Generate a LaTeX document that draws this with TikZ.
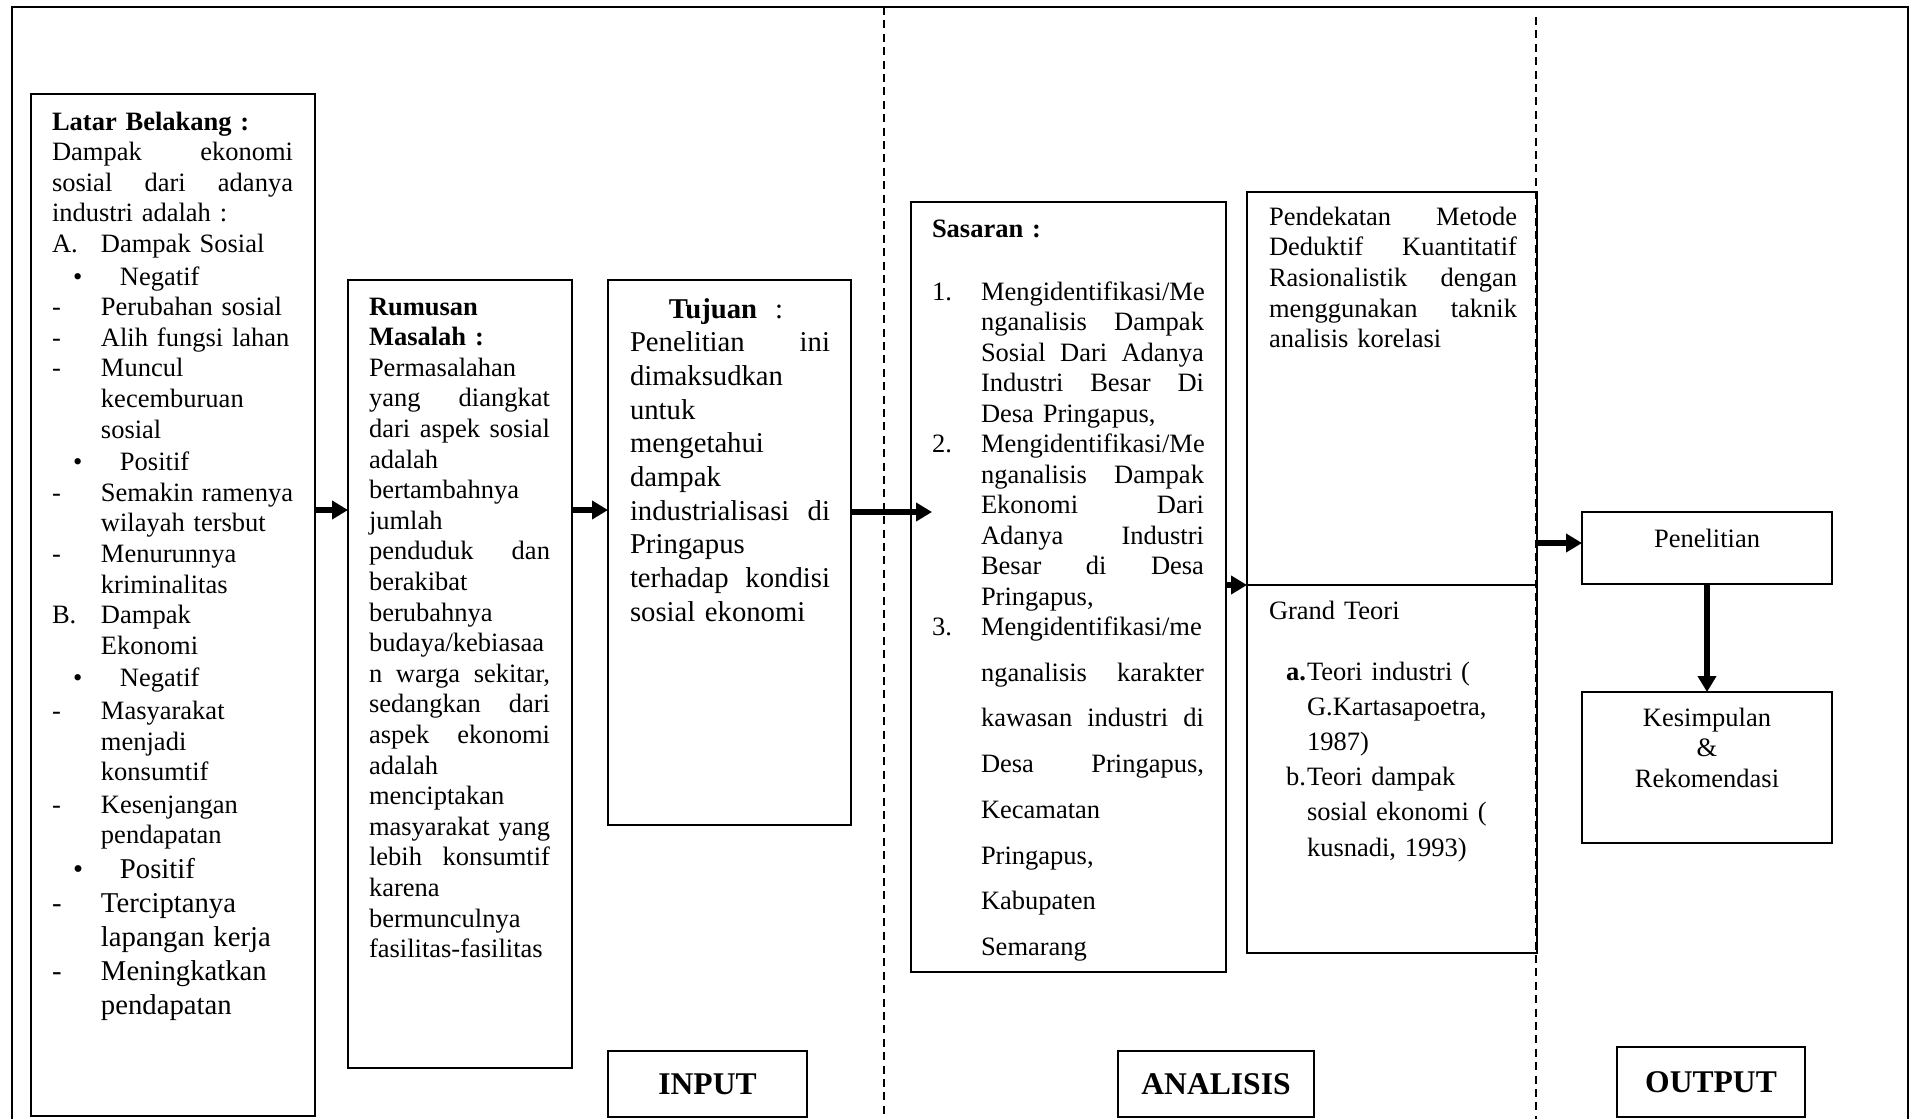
\documentclass[tikz,border=0pt]{standalone}
\usepackage{fontspec}
\setmainfont{Liberation Serif}
\usetikzlibrary{arrows.meta,calc}
\newdimen\jw
\newcommand\JL[1]{\hbox to\jw{\spaceskip=\fontdimen2\font plus 1fil\relax #1}}
\newcommand\NL[1]{\hbox{#1}}
\newcommand\LB[1]{\makebox[24.5pt][l]{#1}}
\newcommand\IND{\hskip24.5pt\relax}
\newcommand\BUL{\hskip10.5pt\makebox[23.5pt][l]{\textbullet}}
\newcommand\DSH{\makebox[24.5pt][l]{-}}
\hbadness=10000
\tikzset{
  box/.style={draw, rectangle, line width=1pt, inner sep=0pt, outer sep=0pt, anchor=north west},
  txt/.style={inner sep=0pt, outer sep=0pt, anchor=base west, font=\fontsize{13.25}{15.3}\selectfont},
  lbl/.style={box, font=\fontsize{15.8}{18}\selectfont\bfseries},
  arr/.style={line width=2.6pt, -{Triangle[length=8pt,width=9pt]}},
  frame/.style={line width=1pt},
  sep/.style={line width=0.6pt, dash pattern=on 4pt off 2.7pt},
}
\begin{document}
\begin{tikzpicture}[x=0.5pt,y=-0.5pt]
\useasboundingbox (0,0) rectangle (1915,1119);
% outer frame and column separators
\draw[frame] (12,1119) -- (12,7) -- (1908,7) -- (1908,1119);
\draw[sep] (884,7) -- (884,1119);
\draw[sep] (1536,17) -- (1536,1119);

% boxes
\node[box, line width=1.3pt, minimum width=142pt, minimum height=511pt] (latar) at (31,94) {};
\node[box, minimum width=112pt, minimum height=394pt] (rumusan) at (348,280) {};
\node[box, minimum width=121.5pt, minimum height=272.5pt] (tujuan) at (608,280) {};
\node[lbl, minimum width=99.5pt, minimum height=33pt] (inputb) at (608,1051) {INPUT};
\node[box, minimum width=157.5pt, minimum height=385pt] (sasaran) at (911,202) {};
\node[box, minimum width=145pt, minimum height=196.5pt] (pend) at (1247,192) {};
\node[box, minimum width=145pt, minimum height=184pt] (grand) at (1247,585) {};
\node[lbl, minimum width=98pt, minimum height=33pt] (analisis) at (1118,1051) {ANALISIS};
\node[box, minimum width=125pt, minimum height=36pt] (penel) at (1582,512) {};
\node[box, minimum width=125pt, minimum height=75.5pt] (kesim) at (1582,692) {};
\node[lbl, minimum width=94pt, minimum height=35pt] (outputb) at (1617,1047) {OUTPUT};

% texts
\node[txt, text width=120.5pt] (latarT) at (52,130) {%
\jw=120.5pt
\NL{\bfseries Latar Belakang :}
\JL{Dampak ekonomi}
\JL{sosial dari adanya}
\NL{industri adalah :}
\NL{\LB{A.}Dampak Sosial}
\vskip1pt\NL{\BUL Negatif}
\NL{\DSH Perubahan sosial}
\NL{\DSH Alih fungsi lahan}
\NL{\DSH Muncul}
\NL{\IND kecemburuan}
\NL{\IND sosial}
\vskip1pt\NL{\BUL Positif}
\JL{\DSH Semakin ramenya}
\NL{\IND wilayah tersbut}
\NL{\DSH Menurunnya}
\NL{\IND kriminalitas}
\NL{\LB{B.}Dampak}
\NL{\IND Ekonomi}
\vskip1pt\NL{\BUL Negatif}
\vskip1pt\NL{\DSH Masyarakat}
\NL{\IND menjadi}
\NL{\IND konsumtif}
\vskip1pt\NL{\DSH Kesenjangan}
\NL{\IND pendapatan}
\fontsize{14.35}{17}\selectfont
\vskip0.5pt\NL{\BUL Positif}
\NL{\DSH Terciptanya}
\NL{\IND lapangan kerja}
\NL{\DSH Meningkatkan}
\NL{\IND pendapatan}
};

\node[txt, text width=90pt] (rumusanT) at (369,315) {%
\jw=90.5pt
\NL{\bfseries Rumusan}
\NL{\bfseries Masalah :}
\NL{Permasalahan}
\JL{yang diangkat}
\JL{dari aspek sosial}
\NL{adalah}
\NL{bertambahnya}
\NL{jumlah}
\JL{penduduk dan}
\NL{berakibat}
\NL{berubahnya}
\NL{budaya/kebiasaa}
\JL{n warga sekitar,}
\JL{sedangkan dari}
\JL{aspek ekonomi}
\NL{adalah}
\NL{menciptakan}
\JL{masyarakat yang}
\JL{lebih konsumtif}
\NL{karena}
\NL{bermunculnya}
\NL{fasilitas-fasilitas}
};

\node[txt, text width=100pt, font=\fontsize{14.35}{16.85}\selectfont] (tujuanT) at (630,318) {%
\jw=100pt
\hbox to\jw{\hfil\textbf{Tujuan}\hskip9pt:\hfil\hskip4pt}
\JL{Penelitian ini}
\NL{dimaksudkan}
\NL{untuk}
\NL{mengetahui}
\NL{dampak}
\JL{industrialisasi di}
\NL{Pringapus}
\JL{terhadap kondisi}
\NL{sosial ekonomi}
};

\node[txt, text width=136pt, font=\fontsize{13.25}{15.25}\selectfont] (sasaranT) at (932,237) {%
\jw=136pt
\NL{\bfseries Sasaran :}
\vskip16.25pt
\NL{\LB{1.}Mengidentifikasi/Me}
\JL{\IND nganalisis Dampak}
\JL{\IND Sosial Dari Adanya}
\JL{\IND Industri Besar Di}
\NL{\IND Desa Pringapus,}
\NL{\LB{2.}Mengidentifikasi/Me}
\JL{\IND nganalisis Dampak}
\JL{\IND Ekonomi Dari}
\JL{\IND Adanya Industri}
\JL{\IND Besar di Desa}
\NL{\IND Pringapus,}
\NL{\LB{3.}Mengidentifikasi/me}
\baselineskip=22.85pt
\JL{\IND nganalisis karakter}
\JL{\IND kawasan industri di}
\JL{\IND Desa Pringapus,}
\NL{\IND Kecamatan}
\NL{\IND Pringapus,}
\NL{\IND Kabupaten}
\NL{\IND Semarang}
};

\node[txt, text width=124pt, font=\fontsize{13.25}{15.35}\selectfont] (pendT) at (1269,225) {%
\jw=124pt
\JL{Pendekatan Metode}
\JL{Deduktif Kuantitatif}
\JL{Rasionalistik dengan}
\JL{menggunakan taknik}
\NL{analisis korelasi}
};

\node[txt, text width=124pt] (grandT) at (1269,619) {%
\NL{Grand Teori}
\baselineskip=17.6pt
\vskip12.9pt
\NL{\hskip8.5pt\makebox[10.5pt][l]{\bfseries a.}Teori industri (}
\NL{\hskip19pt\relax G.Kartasapoetra,}
\NL{\hskip19pt\relax 1987)}
\NL{\hskip8.5pt\makebox[10.5pt][l]{b.}Teori dampak}
\NL{\hskip19pt\relax sosial ekonomi (}
\NL{\hskip19pt\relax kusnadi, 1993)}
};

\node[txt, anchor=base] (penelT) at (1707,547) {Penelitian};
\node[txt, anchor=base, text width=125pt, align=center] (kesimT) at (1707,726) {Kesimpulan\\\&\\Rekomendasi};

% connectors
\coordinate (rowA) at (0,510);
\coordinate (rowB) at (0,512);
\coordinate (rowC) at (0,543);
\draw[arr] (latar.east |- rowA) -- (rumusan.west |- rowA);
\draw[arr] (rumusan.east |- rowA) -- (tujuan.west |- rowA);
\draw[arr] (tujuan.east |- rowB) -- ($(sasaran.west |- rowB)+(21,0)$);
\draw[arr] (sasaran.east |- grand.north) -- (grand.north west);
\draw[arr] (pend.east |- rowC) -- (penel.west |- rowC);
\draw[arr] (penel.south) -- (kesim.north);
\end{tikzpicture}
\end{document}
